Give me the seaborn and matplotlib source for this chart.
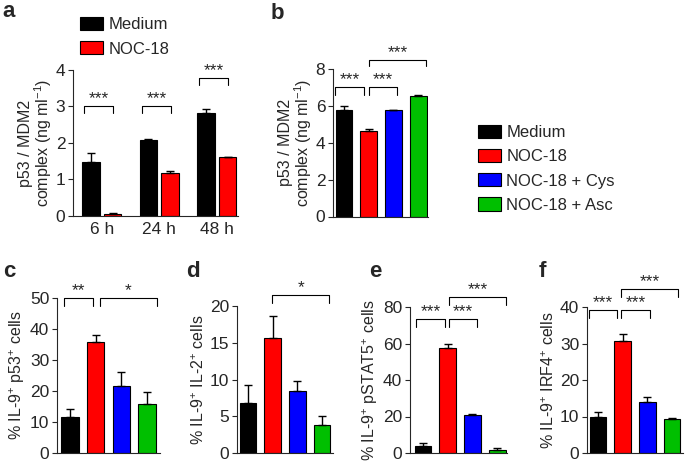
import matplotlib
matplotlib.use("Agg")
import matplotlib.pyplot as plt
from matplotlib.patches import Patch
import numpy as np
import pandas as pd
import seaborn as sns

# panel a
times = ["6 h", "24 h", "48 h"]
medium_a = [1.48, 2.07, 2.82]
medium_a_err = [0.25, 0.05, 0.12]
noc_a = [0.05, 1.17, 1.62]
noc_a_err = [0.03, 0.06, 0.01]

# panels b-f share the four treatments
groups = ["Medium", "NOC-18", "NOC-18 + Cys", "NOC-18 + Asc"]
colors = ["#000000", "#ff0000", "#0000ff", "#00bf00"]

b_vals = [5.78, 4.65, 5.75, 6.55]
b_err = [0.20, 0.07, 0.02, 0.04]
c_vals = [11.7, 35.8, 21.7, 15.7]
c_err = [2.5, 2.4, 4.5, 4.0]
d_vals = [6.8, 15.6, 8.4, 3.8]
d_err = [2.5, 3.1, 1.4, 1.2]
e_vals = [3.8, 57.5, 20.8, 1.5]
e_err = [1.5, 2.5, 0.6, 1.0]
f_vals = [9.8, 30.8, 14.0, 9.4]
f_err = [1.3, 1.8, 1.3, 0.3]

# significance brackets: x1, x2, top, leg bottom, label
a_sig = [(-0.3, 0.2, 3.0, 2.82, "***"), (0.7, 1.2, 3.0, 2.82, "***"), (1.7, 2.2, 3.78, 3.6, "***")]
b_sig = [(-0.36, 0.81, 7.0, 6.6, "***"), (1.01, 2.14, 7.0, 6.6, "***"), (1.01, 3.31, 8.5, 8.15, "***")]
c_sig = [(-0.23, 0.9, 50, 47.4, "**"), (1.18, 3.38, 50, 47.4, "*")]
d_sig = [(0.97, 3.3, 21.5, 20.4, "*")]
e_sig = [(-0.3, 0.9, 73.4, 69, "***"), (1.05, 2.2, 73.4, 69, "***"), (1.05, 3.36, 85.5, 81, "***")]
f_sig = [(-0.36, 0.77, 39.2, 37, "***"), (0.95, 2.1, 39.2, 37, "***"), (0.95, 3.24, 45, 42.7, "***")]

W, H = 685, 462

sns.set_style("ticks")
plt.rcParams["font.family"] = ["Liberation Sans", "DejaVu Sans"]
plt.rcParams["mathtext.fontset"] = "custom"
plt.rcParams["mathtext.rm"] = "Liberation Sans"
plt.rcParams["mathtext.it"] = "Liberation Sans:italic"
plt.rcParams["axes.linewidth"] = 0.8
plt.rcParams["xtick.major.width"] = 0.8
plt.rcParams["ytick.major.width"] = 0.8


def px_axes(fig, left, right, top, bottom):
    return fig.add_axes([left / W, 1 - bottom / H, (right - left) / W, (bottom - top) / H])


def bracket(ax, sig):
    for x1, x2, y, y0, txt in sig:
        ax.plot([x1, x1, x2, x2], [y0, y, y, y0], color="black", lw=0.8, clip_on=False)
        ax.text((x1 + x2) / 2, y, txt, ha="center", va="bottom", fontsize=12.5, clip_on=False)


def style(ax, ylim, yticks, xlim, ylabel, pad=2):
    ax.set_ylim(*ylim)
    ax.set_xlim(*xlim)
    ax.set_yticks(yticks)
    ax.set_ylabel(ylabel, fontsize=11.5, labelpad=pad, linespacing=1.0)
    ax.tick_params(axis="y", labelsize=12.5, length=3.5, pad=2)
    ax.tick_params(axis="x", length=0)
    ax.set_xlabel(None)
    sns.despine(ax=ax)


def four_bar(ax, vals, err):
    df = pd.DataFrame({"group": groups, "value": vals})
    sns.barplot(data=df, x="group", y="value", hue="group", palette=colors, saturation=1, width=0.68,
                edgecolor="black", linewidth=0.8, legend=False, ax=ax)
    ax.errorbar(np.arange(4), vals, yerr=[np.zeros(4), err], fmt="none", ecolor="black",
                elinewidth=1.0, capsize=3, capthick=1.0, zorder=1)
    ax.set_xticks([])


fig = plt.figure(figsize=(W / 100, H / 100), dpi=100)

# a
ax_a = px_axes(fig, 73, 238, 70, 216)
df_a = pd.DataFrame({
    "time": times * 2,
    "condition": ["Medium"] * 3 + ["NOC-18"] * 3,
    "value": medium_a + noc_a,
})
sns.barplot(data=df_a, x="time", y="value", hue="condition", palette=colors[:2], saturation=1,
            width=0.76, gap=0.2, edgecolor="black", linewidth=0.8, legend=False, ax=ax_a)
for cont, vals, err in zip(ax_a.containers, [medium_a, noc_a], [medium_a_err, noc_a_err]):
    xs = [p.get_x() + p.get_width() / 2 for p in cont]
    ax_a.errorbar(xs, vals, yerr=[np.zeros(3), err], fmt="none", ecolor="black",
                  elinewidth=1.0, capsize=3, capthick=1.0, zorder=1)
style(ax_a, (0, 4), [0, 1, 2, 3, 4], (-0.5, 2.37), "p53 / MDM2\ncomplex (ng ml$^{-1}$)", pad=1)
ax_a.tick_params(axis="x", labelsize=12.5, pad=4)
bracket(ax_a, a_sig)

# b
ax_b = px_axes(fig, 333, 428, 69, 216.5)
four_bar(ax_b, b_vals, b_err)
style(ax_b, (0, 8), [0, 2, 4, 6, 8], (-0.45, 3.4), "p53 / MDM2\ncomplex (ng ml$^{-1}$)", pad=1)
bracket(ax_b, b_sig)

# c-f
ax_c = px_axes(fig, 57, 160, 298, 453)
four_bar(ax_c, c_vals, c_err)
style(ax_c, (0, 50), [0, 10, 20, 30, 40, 50], (-0.5, 3.5), "% IL-9$^{+}$ p53$^{+}$ cells")
bracket(ax_c, c_sig)

ax_d = px_axes(fig, 237, 333, 306, 453)
four_bar(ax_d, d_vals, d_err)
style(ax_d, (0, 20), [0, 5, 10, 15, 20], (-0.45, 3.45), "% IL-9$^{+}$ IL-2$^{+}$ cells")
bracket(ax_d, d_sig)

ax_e = px_axes(fig, 410, 507, 307, 453)
four_bar(ax_e, e_vals, e_err)
style(ax_e, (0, 80), [0, 20, 40, 60, 80], (-0.53, 3.4), "% IL-9$^{+}$ pSTAT5$^{+}$ cells")
bracket(ax_e, e_sig)

ax_f = px_axes(fig, 587, 683, 307, 453)
four_bar(ax_f, f_vals, f_err)
style(ax_f, (0, 40), [0, 10, 20, 30, 40], (-0.45, 3.45), "% IL-9$^{+}$ IRF4$^{+}$ cells")
bracket(ax_f, f_sig)

# legends
leg_kw = dict(loc="upper left", frameon=False, fontsize=12, handlelength=1.4, handleheight=0.85,
              handletextpad=0.3, borderpad=0, borderaxespad=0, labelspacing=0.52)
h_a = [Patch(facecolor=colors[i], edgecolor="black", linewidth=0.8) for i in range(2)]
fig.legend(h_a, groups[:2], bbox_to_anchor=(80 / W, 1 - 17 / H), **leg_kw)
h_b = [Patch(facecolor=c, edgecolor="black", linewidth=0.8) for c in colors]
fig.legend(h_b, groups, bbox_to_anchor=(478 / W, 1 - 125 / H), **leg_kw)

# panel letters
for letter, x, y in [("a", 2, 1), ("b", 271, 3), ("c", 3, 261), ("d", 186, 261), ("e", 369, 261), ("f", 539, 261)]:
    fig.text(x / W, 1 - y / H, letter, fontsize=16, fontweight="bold", ha="left", va="top")

fig.savefig("out.png", dpi=100)
